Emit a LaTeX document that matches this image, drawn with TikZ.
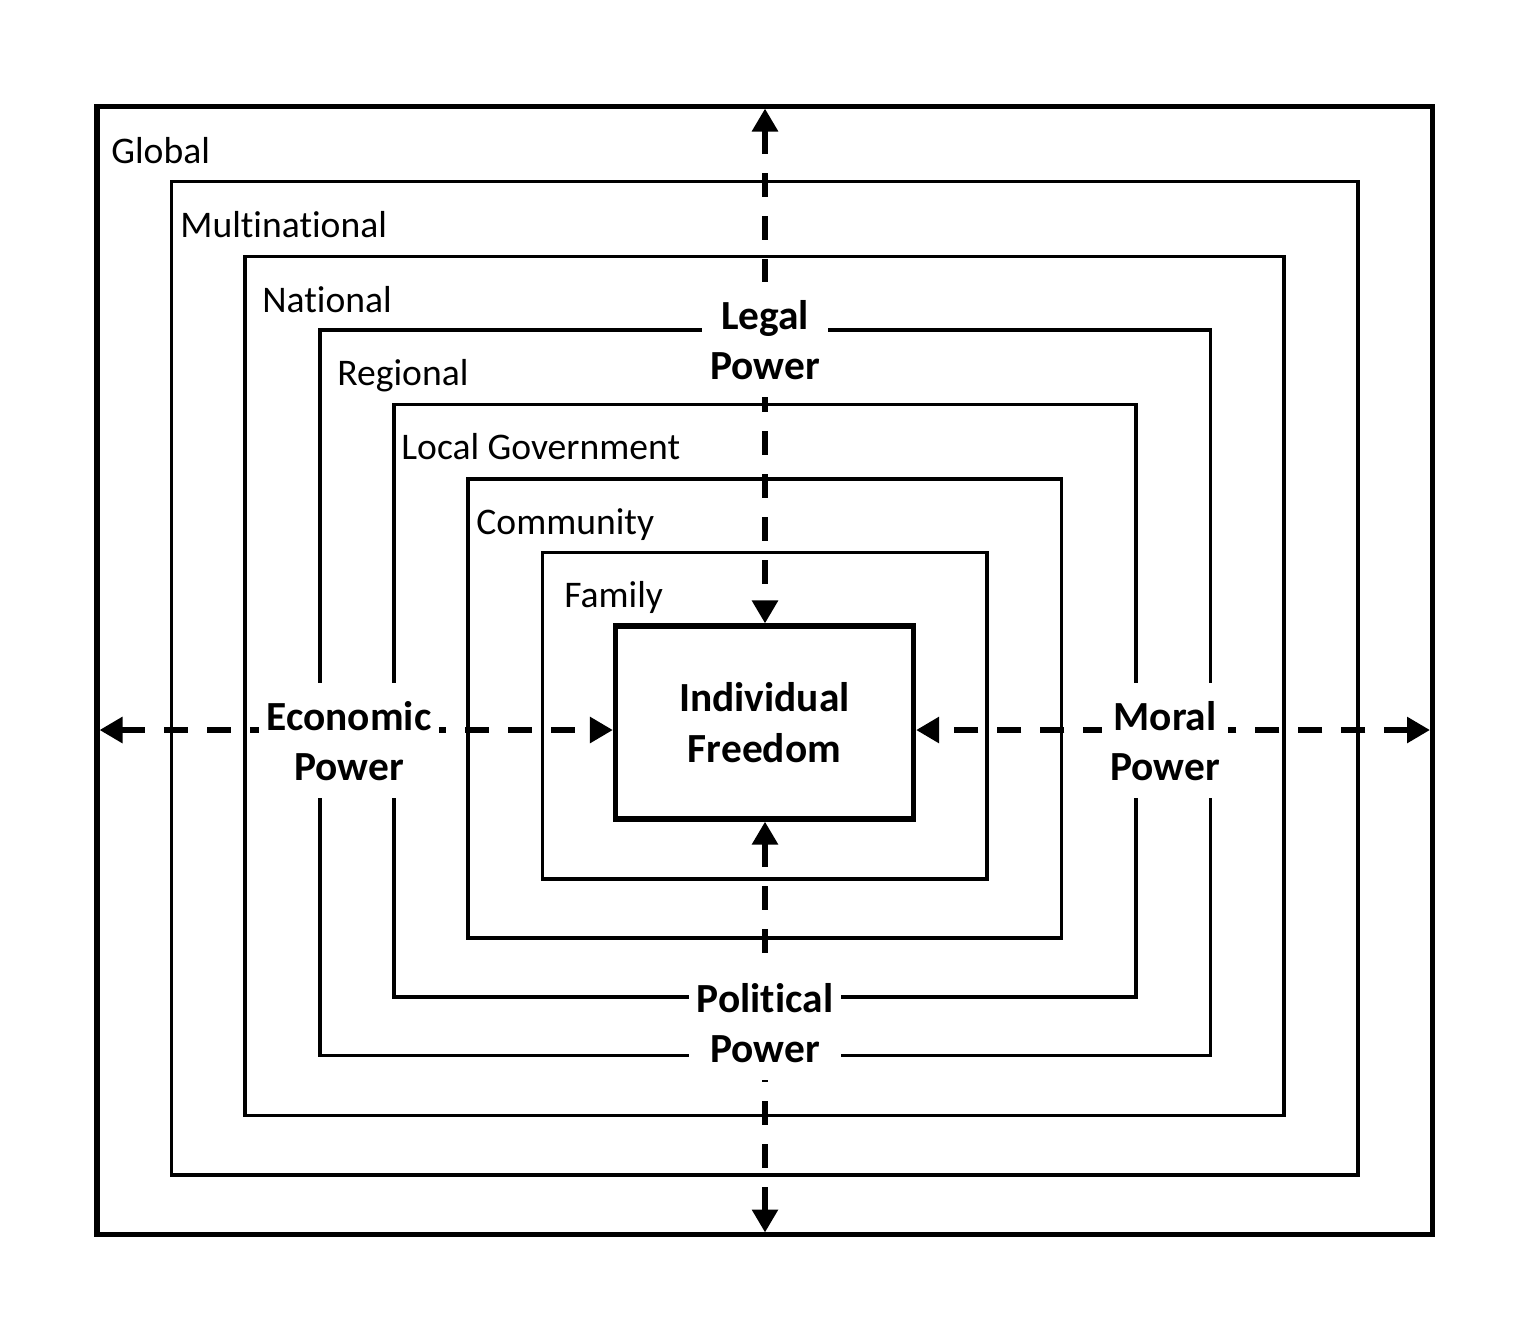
\documentclass[tikz,border=0pt]{standalone}
\usepackage{fontspec}
\setmainfont{Carlito}[Ligatures=NoCommon]
\usetikzlibrary{arrows.meta}
\begin{document}
\begin{tikzpicture}[x=0.5pt,y=-0.5pt,
  levelbox/.style={line width=1.8pt},
  thickbox/.style={line width=2.6pt},
  lvl/.style={anchor=base west, inner sep=0pt, font=\fontsize{18.8pt}{22pt}\selectfont},
  pwr/.style={fill=white, align=center, inner xsep=4pt, inner ysep=9pt,
    font=\fontsize{20.7pt}{25pt}\selectfont\bfseries},
  flow/.style={line width=3pt, dash pattern=on 12pt off 9.5pt,
    {Triangle[length=11.5pt,width=12.5pt]}-{Triangle[length=11.5pt,width=12.5pt]}},
]
\fill[white] (0,0) rectangle (1519,1335);
\useasboundingbox (0,0) rectangle (1519,1335);

% level boxes
\draw[thickbox] (97,106.5) rectangle (1432.5,1234.5);
\draw[levelbox] (171.5,181.5) rectangle (1358,1175);
\draw[levelbox] (245,256.5) rectangle (1284,1115.5);
\draw[levelbox] (320,330) rectangle (1210.5,1055.5);
\draw[levelbox] (394,404.5) rectangle (1136,997);
\draw[levelbox] (468,479) rectangle (1061.5,938);
\draw[levelbox] (542.5,552.5) rectangle (987,879);

% level labels
\node[lvl] (lglobal) at (111,163) {Global};
\node[lvl] (lmulti) at (180,237) {Multinational};
\node[lvl] (lnat) at (262,312) {National};
\node[lvl] (lreg) at (337,385) {Regional};
\node[lvl] (lloc) at (401,459) {Local Government};
\node[lvl] (lcom) at (476,534) {Community};
\node[lvl] (lfam) at (564,607) {Family};

% centre
\node[draw, thickbox, minimum width=149pt, minimum height=96.5pt, inner sep=0pt,
  align=center, font=\fontsize{20.7pt}{25.5pt}\selectfont\bfseries]
  (ind) at (764.5,722.5) {Individual\\Freedom};

% connector end points on the outer frame
\coordinate (gtop) at (765,108.5);
\coordinate (gbot) at (765,1232.5);
\coordinate (gleft) at (99.5,730);
\coordinate (gright) at (1430,730);

\draw[flow] (gtop) -- (ind.north -| gtop);
\draw[flow] (gbot) -- (ind.south -| gbot);
\draw[flow] (gleft) -- (ind.west |- gleft);
\draw[flow] (gright) -- (ind.east |- gright);

% power labels (base = baseline of last line)
\node[pwr, anchor=base] (legal) at (765,379) {Legal\\Power};
\node[pwr, anchor=base] (econ) at (349,780) {Economic\\Power};
\node[pwr, anchor=base] (moral) at (1165,780) {Moral\\Power};
\node[pwr, anchor=base] (polit) at (765,1062) {Political\\Power};
\end{tikzpicture}
\end{document}
